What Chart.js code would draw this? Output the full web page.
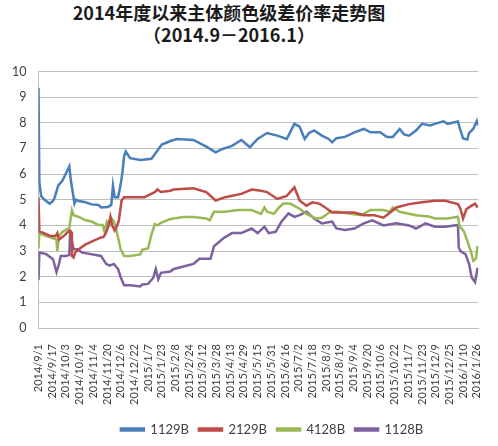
<!DOCTYPE html>
<html lang="zh">
<head>
  <meta charset="UTF-8" />
  <title>2014年度以来主体颜色级差价率走势图</title>
  <script src="https://cdn.jsdelivr.net/npm/chart.js"></script>
  <style>
    body {
      margin: 0;
      background: #fff;
      width: 498px;
      height: 446px;
      overflow: hidden;
      position: relative;
    }
    #title {
      position: absolute;
      left: 0;
      top: 1px;
      width: 458px;
      text-align: center;
      font-family: "Noto Sans CJK SC", sans-serif;
      font-weight: bold;
      font-size: 18px;
      line-height: 22px;
      color: #1a1a1a;
    }
    #wrap {
      position: absolute;
      left: 0;
      top: 52px;
      width: 498px;
      height: 394px;
    }
  </style>
</head>
<body>
  <div id="title">2014年度以来主体颜色级差价率走势图<br/>（2014.9－2016.1）</div>
  <div id="wrap"><canvas id="chart"></canvas></div>

  <script>
    // x axis: one tick every 16 days from 2014/9/1
    const dateLabels = [
      '2014/9/1', '2014/9/17', '2014/10/3', '2014/10/19', '2014/11/4', '2014/11/20',
      '2014/12/6', '2014/12/22', '2015/1/7', '2015/1/23', '2015/2/8', '2015/2/24',
      '2015/3/12', '2015/3/28', '2015/4/13', '2015/4/29', '2015/5/15', '2015/5/31',
      '2015/6/16', '2015/7/2', '2015/7/18', '2015/8/3', '2015/8/19', '2015/9/4',
      '2015/9/20', '2015/10/6', '2015/10/22', '2015/11/7', '2015/11/23', '2015/12/9',
      '2015/12/25', '2016/1/10', '2016/1/26'
    ];
    const yTicks = [0, 1, 2, 3, 4, 5, 6, 7, 8, 9, 10];

    // days since 2014/9/1 and value
    const days1129B = [0, 1, 3, 7, 13, 17, 19, 23, 28, 36, 38, 40, 42, 44, 47, 55, 62, 70, 73, 81, 85, 87, 89, 93, 96, 98, 100, 102, 107, 119, 132, 144, 155, 162, 181, 196, 207, 215, 226, 237, 247, 256, 267, 279, 290, 299, 305, 311, 316, 322, 331, 339, 343, 348, 358, 369, 380, 388, 399, 407, 414, 422, 427, 433, 441, 448, 458, 463, 473, 478, 490, 493, 496, 501, 503, 508, 512, 513];
    const vals1129B = [9.37, 5.7, 5.15, 5.0, 4.85, 4.95, 5.1, 5.55, 5.75, 6.3, 5.7, 5.3, 4.85, 5.0, 4.95, 4.9, 4.82, 4.8, 4.7, 4.72, 4.8, 5.55, 5.1, 5.1, 5.6, 6.05, 6.7, 6.88, 6.62, 6.55, 6.6, 7.15, 7.3, 7.37, 7.33, 7.07, 6.85, 6.98, 7.1, 7.33, 7.05, 7.37, 7.6, 7.5, 7.37, 7.96, 7.85, 7.37, 7.6, 7.7, 7.5, 7.37, 7.24, 7.4, 7.45, 7.63, 7.76, 7.63, 7.63, 7.45, 7.45, 7.76, 7.55, 7.5, 7.7, 7.96, 7.9, 7.96, 8.06, 7.96, 8.05, 7.7, 7.39, 7.35, 7.6, 7.77, 8.07, 7.9];

    const days2129B = [0, 1, 5, 13, 20, 22, 24, 30, 36, 38, 39, 41, 43, 47, 55, 64, 73, 76, 78, 81, 84, 86, 89, 92, 94, 97, 100, 124, 136, 139, 143, 154, 158, 181, 196, 207, 218, 237, 249, 260, 267, 279, 290, 299, 305, 313, 320, 328, 335, 343, 358, 369, 380, 392, 403, 412, 418, 433, 448, 463, 475, 490, 493, 496, 500, 506, 510, 513];
    const vals2129B = [5.1, 3.77, 3.72, 3.6, 3.58, 3.7, 3.45, 3.6, 3.8, 3.75, 2.81, 2.75, 2.95, 3.07, 3.26, 3.4, 3.53, 3.55, 3.66, 3.9, 4.34, 4.0, 3.8, 4.0, 4.2, 4.97, 5.1, 5.1, 5.3, 5.4, 5.3, 5.35, 5.4, 5.45, 5.3, 4.97, 5.1, 5.23, 5.4, 5.35, 5.3, 5.03, 5.15, 5.48, 4.97, 4.77, 4.9, 4.85, 4.7, 4.5, 4.5, 4.5, 4.4, 4.4, 4.3, 4.53, 4.7, 4.83, 4.9, 4.96, 4.96, 4.83, 4.64, 4.27, 4.64, 4.77, 4.85, 4.7];

    const days4128B = [0, 1, 9, 17, 21, 22, 24, 28, 36, 39, 41, 47, 55, 62, 70, 75, 77, 80, 83, 85, 88, 90, 93, 96, 100, 107, 119, 121, 128, 132, 136, 139, 143, 154, 158, 169, 181, 196, 200, 205, 218, 233, 249, 260, 264, 267, 275, 281, 286, 294, 305, 313, 324, 331, 341, 350, 365, 377, 388, 403, 410, 414, 422, 441, 456, 463, 478, 490, 492, 497, 501, 505, 508, 511, 513];
    const vals4128B = [3.1, 3.7, 3.58, 3.5, 3.45, 3.0, 3.58, 3.75, 3.9, 4.59, 4.4, 4.33, 4.2, 4.15, 4.02, 4.02, 3.77, 4.15, 4.02, 4.3, 4.15, 3.96, 3.52, 3.07, 2.81, 2.81, 2.87, 3.05, 3.1, 3.65, 4.05, 4.0, 4.1, 4.25, 4.27, 4.33, 4.33, 4.27, 4.2, 4.53, 4.53, 4.6, 4.6, 4.45, 4.7, 4.53, 4.45, 4.7, 4.85, 4.85, 4.65, 4.45, 4.27, 4.3, 4.53, 4.53, 4.45, 4.4, 4.6, 4.6, 4.53, 4.7, 4.53, 4.4, 4.35, 4.27, 4.27, 4.34, 3.96, 3.77, 3.39, 3.0, 2.62, 2.7, 3.2];

    const days1128B = [0, 1, 9, 17, 21, 24, 26, 32, 36, 37, 39, 41, 45, 51, 58, 73, 79, 83, 88, 93, 96, 100, 107, 119, 121, 128, 134, 137, 140, 143, 154, 158, 181, 188, 201, 205, 216, 226, 237, 249, 256, 264, 269, 277, 284, 292, 299, 305, 313, 322, 331, 343, 348, 358, 369, 380, 390, 403, 418, 433, 441, 452, 463, 475, 490, 491, 493, 499, 503, 506, 510, 513];
    const vals1128B = [1.86, 2.94, 2.88, 2.68, 2.18, 2.5, 2.81, 2.81, 2.85, 3.83, 3.39, 3.07, 3.07, 2.94, 2.9, 2.81, 2.5, 2.43, 2.5, 2.3, 1.98, 1.67, 1.67, 1.62, 1.7, 1.72, 1.95, 2.3, 1.9, 2.15, 2.2, 2.3, 2.5, 2.7, 2.7, 3.19, 3.5, 3.7, 3.7, 3.88, 3.7, 3.95, 3.7, 3.75, 4.15, 4.47, 4.33, 4.4, 4.53, 4.27, 4.08, 4.15, 3.88, 3.82, 3.88, 4.08, 4.2, 4.0, 4.08, 4.0, 3.88, 4.08, 3.95, 3.95, 4.02, 3.13, 3.0, 2.87, 2.5, 1.98, 1.79, 2.35];

    function toPoints(days, vals) {
      return days.map((d, i) => ({ x: d, y: vals[i] }));
    }

    function series(label, days, vals, color) {
      return {
        label: label,
        data: toPoints(days, vals),
        borderColor: color,
        backgroundColor: color,
        borderWidth: 2.5,
        pointRadius: 0,
        tension: 0
      };
    }

    const fontFamily = 'Lato, "Open Sans", sans-serif';

    // legend sits a bit right of centre in the original
    const legendShift = {
      id: 'legendShift',
      afterLayout(chart) {
        chart.legend.left += 29;
        chart.legend.right += 29;
      }
    };

    new Chart(document.getElementById('chart'), {
      type: 'line',
      data: {
        datasets: [
          series('1129B', days1129B, vals1129B, '#4a7ebb'),
          series('2129B', days2129B, vals2129B, '#be4b48'),
          series('4128B', days4128B, vals4128B, '#98b954'),
          series('1128B', days1128B, vals1128B, '#7d60a0')
        ]
      },
      plugins: [legendShift],
      options: {
        responsive: true,
        maintainAspectRatio: false,
        animation: false,
        layout: { padding: { left: 0, right: 12, top: 11, bottom: 0 } },
        plugins: {
          legend: {
            position: 'bottom',
            labels: {
              boxWidth: 23,
              boxHeight: 2,
              color: '#404040',
              font: { family: fontFamily, size: 13 },
              padding: 10
            }
          },
          tooltip: { enabled: false }
        },
        scales: {
          x: {
            type: 'linear',
            min: 0,
            max: 514,
            afterBuildTicks: axis => {
              axis.ticks = dateLabels.map((_, i) => ({ value: i * 16 }));
            },
            ticks: {
              autoSkip: false,
              minRotation: 90,
              maxRotation: 90,
              padding: 8,
              color: '#404040',
              font: { family: fontFamily, size: 11 },
              callback: v => dateLabels[Math.round(v / 16)]
            },
            grid: { display: false },
            border: { display: true, color: '#bfbfbf' }
          },
          y: {
            min: 0,
            max: 10,
            afterBuildTicks: axis => {
              axis.ticks = yTicks.map(v => ({ value: v }));
            },
            ticks: { color: '#404040', font: { family: fontFamily, size: 12.5 }, padding: 12 },
            grid: { color: '#bfbfbf', drawTicks: false },
            border: { display: true, color: '#bfbfbf' }
          }
        }
      }
    });
  </script>
</body>
</html>
